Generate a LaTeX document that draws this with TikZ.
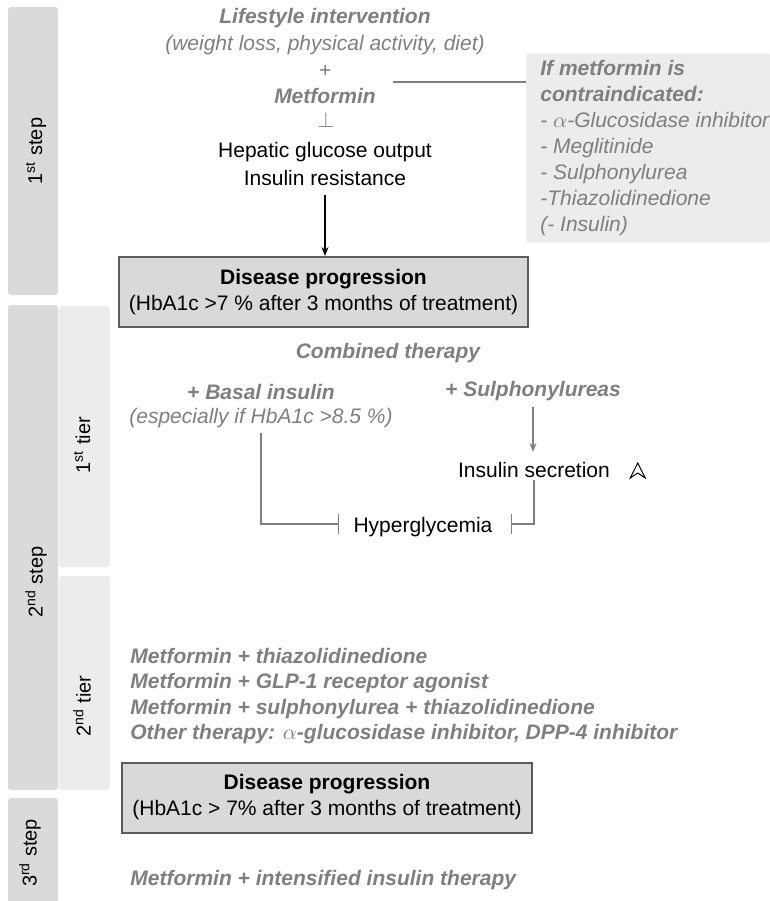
\documentclass[tikz,border=0pt]{standalone}
\usepackage{fontspec}
\setmainfont{Liberation Sans}
\usepackage{tikz}
\usetikzlibrary{arrows.meta, positioning}
\definecolor{notegray}{HTML}{7F7F7F}
\definecolor{stepgray}{HTML}{DADADA}
\definecolor{tiergray}{HTML}{EBECEB}
\definecolor{boxgray}{HTML}{D9D9D9}
\definecolor{edgegray}{HTML}{5C5C5C}

\newcommand{\basefont}{\fontsize{10.5}{12.6}\selectfont}
\tikzset{
    txt/.style={inner sep=0pt, font=\basefont},
    gtitle/.style={inner sep=0pt, text=notegray, font=\basefont\bfseries\itshape},
    gnote/.style={inner sep=0pt, text=notegray, font=\basefont\itshape},
    barlabel/.style={inner sep=0pt, rotate=90, font=\fontsize{10}{12}\selectfont},
    progbox/.style={draw=edgegray, line width=1pt, fill=boxgray, align=center,
        minimum height=35pt, inner sep=0pt, font=\fontsize{10.5}{12.8}\selectfont},
    gline/.style={notegray, line width=0.6pt},
}

\begin{document}
\begin{tikzpicture}[x=0.5pt, y=-0.5pt]
    \useasboundingbox (0,0) rectangle (770,901);

    % Side bars
    \foreach \nm/\cx/\cy/\w/\h/\col in {s1/33/151/25/144/stepgray, s2/33/547.5/25/242.5/stepgray,
            t1/84.5/436.5/25.5/130.5/tiergray, t2/84.5/683/25.5/107/tiergray, s3/33/852/25/54/stepgray}
        \node[fill=\col, rounded corners=1.5pt, minimum width=\w pt, minimum height=\h pt, inner sep=0pt] (\nm) at (\cx,\cy) {};
    \node[barlabel] (s1lab) at (36,151) {1\textsuperscript{st} step};
    \node[barlabel] (s2lab) at (36,582) {2\textsuperscript{nd} step};
    \node[barlabel] (t1lab) at (82,445) {1\textsuperscript{st} tier};
    \node[barlabel] (t2lab) at (82,706) {2\textsuperscript{nd} tier};
    \node[barlabel] (s3lab) at (30,853) {3\textsuperscript{rd} step};

    % First step
    \node[gtitle] (life) at (325,18) {Lifestyle intervention};
    \node[gnote] (lifeex) at (325,45) {(weight loss, physical activity, diet)};
    \node[gnote] (plus) at (325,71) {+};
    \node[gtitle] (met) at (325,96) {Metformin};
    \node[txt, text=notegray] (metstop) at (326,120) {$\perp$};
    \node[txt, align=center, font=\fontsize{10.5}{14}\selectfont] (hep) at (325,164) {Hepatic glucose output\\Insulin resistance};
    \node[progbox, minimum width=204.5pt] (prog1) at (323.5,292)
        {\textbf{Disease progression}\\(HbA1c >7 \% after 3 months of treatment)};
    \draw[-{Stealth[length=4.5pt, width=3.5pt]}, line width=0.6pt, shorten <=4.5pt] (hep.south) -- (hep.south |- prog1.north);

    % Contraindication
    \node[fill=tiergray, rounded corners=1pt, minimum width=122pt, minimum height=94.5pt, inner sep=0pt, anchor=north west] (cibg) at (526,53) {};
    \node[gnote, anchor=north west, align=left, font=\fontsize{10.5}{13}\selectfont\itshape] (ci) at (540,60)
        {\textbf{If metformin is}\\\textbf{contraindicated:}\\- $\alpha$-Glucosidase inhibitor\\- Meglitinide\\- Sulphonylurea\\-Thiazolidinedione\\(- Insulin)};
    \coordinate (metline) at (393,82);
    \draw[gline] (metline) -- (cibg.west |- metline);

    % Second step, first tier
    \node[gtitle] (comb) at (388,353) {Combined therapy};
    \node[gtitle] (basal) at (261,392) {+ Basal insulin};
    \node[gnote] (basalex) at (261,418) {(especially if HbA1c >8.5 \%)};
    \node[gtitle] (sulf) at (533,391) {+ Sulphonylureas};
    \node[txt] (insec) at (534,470) {Insulin secretion};
    \node[txt] (hyper) at (423,527) {Hyperglycemia};
    \draw[gline, -{Stealth[length=4.5pt, width=3.5pt]}, shorten <=3pt, shorten >=5pt] (sulf.south) -- (sulf.south |- insec.north);
    \draw[gline, -{Bar[width=10pt]}, shorten <=2.5pt] (basalex.south) |- ([xshift=-7pt, yshift=1.5pt]hyper.west);
    \draw[gline, -{Bar[width=10pt]}, shorten <=1pt] (insec.south) |- ([xshift=9pt, yshift=1.5pt]hyper.east);
    \draw[line width=0.5pt, line join=miter] ([xshift=10pt, yshift=-4pt]insec.east) -- ++(7.5,-15) -- ++(7.5,15) -- ++(-7.5,-5) -- cycle;

    % Second step, second tier
    \node[gtitle, anchor=north west, align=left, font=\fontsize{10.5}{12.65}\selectfont\bfseries\itshape] (tier2) at (130,648)
        {Metformin + thiazolidinedione\\Metformin + GLP-1 receptor agonist\\Metformin + sulphonylurea + thiazolidinedione\\Other therapy: $\alpha$-glucosidase inhibitor, DPP-4 inhibitor};
    \node[progbox, minimum width=205pt, font=\fontsize{10.5}{13}\selectfont] (prog2) at (327,797.5)
        {\textbf{Disease progression}\\(HbA1c > 7\% after 3 months of treatment)};

    % Third step
    \node[gtitle, anchor=west] (step3) at (130,880) {Metformin + intensified insulin therapy};
\end{tikzpicture}
\end{document}
